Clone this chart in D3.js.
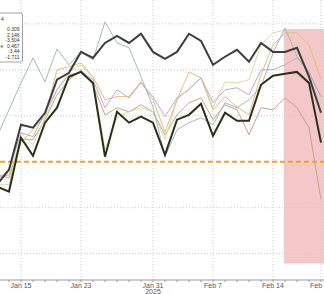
<!DOCTYPE html>
<html>
<head>
<meta charset="UTF-8">
<script src="https://d3js.org/d3.v7.min.js"></script>
<style>
  body { margin: 0; background: #fff; }
  svg { display: block; font-family: "Liberation Sans", Arial, sans-serif; }
  .grid line { stroke: #c9c9c9; stroke-width: 1; stroke-dasharray: 1,2; }
  .axis text { fill: #555; font-size: 7px; }
</style>
</head>
<body>
<svg id="chart" width="324" height="294"></svg>
<script>
// business days shown (MLK day and Presidents day skipped)
const dates = ["Jan 13","Jan 14","Jan 15","Jan 16","Jan 17","Jan 21","Jan 22","Jan 23","Jan 24",
  "Jan 27","Jan 28","Jan 29","Jan 30","Jan 31","Feb 3","Feb 4","Feb 5","Feb 6","Feb 7",
  "Feb 10","Feb 11","Feb 12","Feb 13","Feb 14","Feb 18","Feb 19","Feb 20","Feb 21"];
const tickDates = ["Jan 15","Jan 23","Jan 31","Feb 7","Feb 14","Feb 21"];
const gridValues = [-4, -2, 2, 4, 6];

const charcoal = [-1.0,-0.35,1.61,1.48,2.13,3.57,3.87,4.78,4.52,5.17,5.48,5.17,5.57,4.78,4.48,4.78,5.57,5.26,4.22,4.57,4.87,4.35,5.17,4.78,4.78,4.96,3.70,2.13];
const darkOlive = [-1.09,-1.30,1.04,0.26,1.70,2.35,3.70,3.91,3.43,0.22,2.17,1.70,1.96,1.70,0.30,1.83,2.04,2.52,1.13,2.13,1.78,1.78,3.35,3.74,3.83,3.91,3.43,0.83];
const grayBlue = [1.09,2.26,3.43,4.52,3.48,4.91,4.22,4.78,4.43,6.09,5.17,4.96,3.70,2.39,0.22,1.39,1.70,1.91,1.61,2.57,2.35,2.70,3.26,4.74,5.83,4.57,3.91,2.83];
const mauve = [-0.78,-0.35,1.26,1.09,2.13,3.13,3.78,3.91,3.57,2.35,3.13,2.78,3.43,2.83,1.96,2.78,3.13,3.65,2.57,3.13,3.22,2.91,4.00,4.00,4.22,4.52,3.87,2.83];
const tan = [-0.70,-0.57,0.83,1.39,1.96,4.00,4.13,4.30,3.70,2.70,2.83,2.83,3.48,2.70,1.30,2.70,3.91,3.65,2.26,2.83,2.39,2.04,3.78,5.09,5.61,5.61,5.09,3.57];
const lightGreen = [-1.00,-1.00,1.26,0.74,1.91,3.13,3.91,4.22,3.65,0.52,1.91,2.17,2.35,2.17,0.96,2.70,3.22,3.65,2.35,3.48,3.43,3.57,5.09,5.61,5.74,5.09,3.78,2.26];
const brown = [-0.57,-0.70,0.96,0.96,1.83,2.91,3.57,4.00,3.35,2.04,2.35,2.17,2.48,2.17,1.17,2.04,2.57,2.78,1.83,2.48,2.26,1.17,2.35,2.26,2.78,2.35,1.48,-1.65];

const legendHeader = "4";
const legendLabels = ["", "", "", "e", "", ""];
const legendValues = ["0.309","2.146","-3.504","0.467","-3.44","-1.711"];

const shadeFrom = 23.9, shadeTop = 5.78, shadeBottom = -4.43;

const series = [
  {values: brown, color: "#c9a28e", width: 1},
  {values: lightGreen, color: "#cfe0a2", width: 1},
  {values: tan, color: "#e4be7c", width: 1},
  {values: mauve, color: "#c8a6c9", width: 1},
  {values: grayBlue, color: "#a9b7c1", width: 1},
  {values: darkOlive, color: "#28311a", width: 2},
  {values: charcoal, color: "#3d3d3d", width: 2}
];

const width = 324, height = 294;
const axisY = 280;
const svg = d3.select("#chart");

const x = d3.scaleLinear().domain([0, dates.length - 1]).range([-3, 321]);
const y = d3.scaleLinear().domain([-5.15, 7.04]).range([axisY, 0]);

// shaded period
svg.append("rect")
  .attr("x", x(shadeFrom))
  .attr("y", y(shadeTop))
  .attr("width", width - x(shadeFrom))
  .attr("height", y(shadeBottom) - y(shadeTop))
  .attr("fill", "#f4c8c8");

// grid
const grid = svg.append("g").attr("class", "grid");
grid.selectAll(".h").data(gridValues).join("line")
  .attr("x1", 0).attr("x2", width)
  .attr("y1", d => y(d)).attr("y2", d => y(d));
grid.selectAll(".v").data(tickDates).join("line")
  .attr("x1", d => x(dates.indexOf(d))).attr("x2", d => x(dates.indexOf(d)))
  .attr("y1", 0).attr("y2", axisY);

// zero line
svg.append("line")
  .attr("x1", 0).attr("x2", width)
  .attr("y1", y(0)).attr("y2", y(0))
  .attr("stroke", "#f0a22c").attr("stroke-width", 2)
  .attr("stroke-dasharray", "5,3");

const line = d3.line().x((d, i) => x(i)).y(d => y(d));

svg.append("g").selectAll("path").data(series).join("path")
  .attr("d", d => line(d.values))
  .attr("fill", "none")
  .attr("stroke", d => d.color)
  .attr("stroke-width", d => d.width)
  .attr("stroke-linejoin", "miter");

// x axis
const axis = svg.append("g").attr("class", "axis").attr("transform", `translate(0,${axisY})`);
axis.append("line").attr("x1", 0).attr("x2", width).attr("stroke", "#9a9a9a");
axis.selectAll(".tick").data(dates).join("line")
  .attr("x1", (d, i) => x(i)).attr("x2", (d, i) => x(i))
  .attr("y1", 0).attr("y2", 2).attr("stroke", "#9a9a9a");
axis.selectAll("text.lab").data(tickDates).join("text")
  .attr("class", "lab")
  .attr("x", d => x(dates.indexOf(d)))
  .attr("y", 8)
  .attr("text-anchor", "middle")
  .text(d => d);
axis.append("text")
  .attr("x", x(dates.indexOf("Jan 31")))
  .attr("y", 14)
  .attr("text-anchor", "middle")
  .text("2025");

// legend (cut off on the left)
const lg = svg.append("g");
lg.append("rect")
  .attr("x", -3).attr("y", 13).attr("width", 25.5).attr("height", 49)
  .attr("rx", 2).attr("fill", "#fff").attr("stroke", "#8a8a8a").attr("stroke-width", 0.8);
lg.append("text").attr("x", 1).attr("y", 21).attr("font-size", 5).attr("fill", "#333").text(legendHeader);
lg.selectAll("text.val").data(legendValues).join("text")
  .attr("class", "val")
  .attr("x", 19.5)
  .attr("y", (d, i) => 31 + i * 5.6)
  .attr("text-anchor", "end")
  .attr("font-size", 5)
  .attr("fill", "#333")
  .text(d => d);
lg.selectAll("text.lab").data(legendLabels).join("text")
  .attr("class", "lab")
  .attr("x", 0.5)
  .attr("y", (d, i) => 31 + i * 5.6)
  .attr("font-size", 5)
  .attr("fill", "#333")
  .text(d => d);
</script>
</body>
</html>
